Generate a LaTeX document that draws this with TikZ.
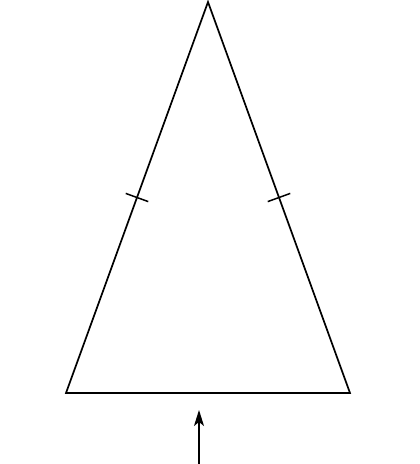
\documentclass[tikz,border=0pt]{standalone}
\usetikzlibrary{calc,arrows.meta}
\begin{document}
\begin{tikzpicture}[x=1pt,y=-1pt,
  edge/.style={line width=1.7pt,line join=miter},
  tickmark/.style={line width=1.5pt},
  pointer/.style={line width=1.6pt,-{Stealth[length=16pt,width=10pt,inset=4pt]}}]
\useasboundingbox (0,0) rectangle (420,464);
\coordinate (A) at (208,2);
\coordinate (L) at (66,393);
\coordinate (R) at (350,393);
\draw[edge] (A) -- (L) -- (R) -- cycle;
\coordinate (ML) at ($(A)!0.5!(L)$);
\coordinate (MR) at ($(A)!0.5!(R)$);
\draw[tickmark] ($(ML)!12pt!90:(A)$) -- ($(ML)!12pt!-90:(A)$);
\draw[tickmark] ($(MR)!12pt!90:(A)$) -- ($(MR)!12pt!-90:(A)$);
\coordinate (S) at (199,464);
\coordinate (T) at (199,410);
\draw[pointer] (S) -- (T);
\end{tikzpicture}
\end{document}
